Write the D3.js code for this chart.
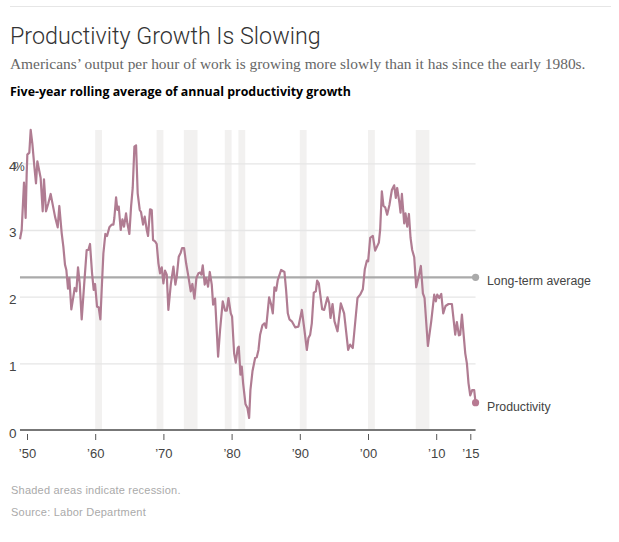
<!DOCTYPE html>
<html><head><meta charset="utf-8">
<script src="https://cdn.jsdelivr.net/npm/d3@7/dist/d3.min.js"></script>
<style>
html,body{margin:0;padding:0;background:#fff;}
svg{display:block;}
</style></head><body><svg id="c" width="619" height="542"></svg>
<script>
const titleText="Productivity Growth Is Slowing";
const subtitleText="Americans’ output per hour of work is growing more slowly than it has since the early 1980s.";
const chartLabel="Five-year rolling average of annual productivity growth";
const noteText="Shaded areas indicate recession.";
const sourceText="Source: Labor Department";
const yTicks=[0,1,2,3,4];
const xTicks=[1950,1960,1970,1980,1990,2000,2010,2015];
const longTermAverage=2.29;
const recessions=[[1960,1961],[1969,1970],[1973,1975],[1979,1980],[1981,1982],[1990,1991],[2000,2001],[2007,2009]];
const years=[1948.97,1949.22,1949.56,1949.80,1949.95,1950.05,1950.34,1950.54,1950.78,1951.08,1951.32,1951.52,1951.81,1952.00,1952.30,1952.49,1952.79,1953.13,1953.47,1953.77,1954.11,1954.50,1954.74,1955.09,1955.33,1955.57,1955.77,1956.01,1956.21,1956.50,1956.80,1956.99,1957.24,1957.48,1957.73,1958.02,1958.36,1958.75,1959.00,1959.24,1959.54,1959.78,1959.98,1960.27,1960.51,1960.76,1960.95,1961.20,1961.49,1961.74,1962.08,1962.42,1962.67,1962.81,1963.06,1963.25,1963.45,1963.74,1963.99,1964.23,1964.52,1964.72,1965.01,1965.26,1965.50,1965.75,1965.99,1966.23,1966.53,1966.72,1967.02,1967.26,1967.56,1967.75,1968.04,1968.29,1968.48,1968.78,1969.02,1969.27,1969.51,1969.76,1970.00,1970.24,1970.49,1970.73,1971.08,1971.47,1971.76,1971.96,1972.25,1972.54,1972.74,1973.03,1973.33,1973.62,1974.01,1974.25,1974.55,1974.84,1975.13,1975.38,1975.57,1975.77,1976.06,1976.26,1976.55,1976.80,1977.09,1977.29,1977.58,1978.02,1978.31,1978.70,1979.05,1979.29,1979.54,1979.88,1980.07,1980.37,1980.61,1980.90,1981.05,1981.30,1981.49,1981.69,1982.03,1982.32,1982.57,1982.76,1983.06,1983.45,1983.69,1983.94,1984.18,1984.52,1984.82,1985.06,1985.50,1985.80,1986.04,1986.28,1986.53,1986.77,1987.26,1987.75,1987.99,1988.24,1988.48,1988.83,1989.32,1989.80,1990.30,1990.68,1991.03,1991.27,1991.52,1991.76,1992.05,1992.35,1992.54,1992.79,1993.28,1993.57,1994.06,1994.31,1994.50,1994.80,1995.09,1995.53,1996.01,1996.50,1997.09,1997.38,1997.77,1998.46,1998.85,1999.24,1999.53,1999.83,2000.02,2000.32,2000.71,2001.05,2001.59,2001.78,2002.03,2002.27,2002.52,2002.81,2003.15,2003.50,2003.84,2004.08,2004.28,2004.62,2004.77,2004.97,2005.31,2005.50,2005.75,2006.00,2006.24,2006.48,2006.78,2007.07,2007.41,2007.75,2008.05,2008.29,2008.78,2009.27,2009.71,2009.95,2010.15,2010.44,2010.74,2011.03,2011.37,2011.81,2012.30,2012.79,2013.03,2013.33,2013.52,2013.77,2014.26,2014.50,2014.74,2014.99,2015.28,2015.57,2015.77];
const productivity=[2.86,3.00,3.71,3.18,3.83,4.13,4.16,4.50,4.30,3.95,3.70,4.03,3.88,3.78,3.28,3.76,3.28,3.40,3.54,3.38,3.20,3.04,3.36,2.95,2.75,2.48,2.40,2.12,2.28,1.81,2.00,2.13,2.08,2.44,2.20,1.66,2.15,2.70,2.70,2.79,2.35,2.10,2.19,1.85,1.84,1.66,2.10,2.65,2.94,2.91,3.04,3.08,3.08,3.18,3.49,3.30,3.35,3.00,3.16,3.05,3.25,3.10,2.94,3.35,3.63,4.25,4.27,3.55,3.30,3.27,3.08,3.20,3.00,2.91,3.31,3.30,2.85,2.83,2.79,2.50,2.35,2.44,2.20,2.39,2.33,1.80,2.18,2.45,2.18,2.30,2.60,2.66,2.73,2.73,2.50,2.33,2.08,2.19,1.97,2.28,2.35,2.36,2.33,2.47,2.18,2.28,2.15,2.37,2.18,1.88,1.97,1.10,1.50,1.93,1.79,1.79,1.98,1.75,1.70,1.15,1.01,1.23,1.25,0.83,0.95,0.70,0.39,0.33,0.18,0.60,0.88,1.08,1.09,1.20,1.43,1.57,1.60,1.53,1.99,1.88,1.75,2.14,2.09,2.25,2.40,2.37,2.10,1.75,1.66,1.63,1.54,1.55,1.80,1.50,1.20,1.38,1.43,1.60,2.06,2.08,2.24,2.20,1.81,1.80,1.99,1.90,1.68,1.89,1.63,1.48,1.90,1.75,1.20,1.28,1.23,1.98,2.03,2.11,2.41,2.54,2.53,2.88,2.91,2.69,2.81,3.00,3.58,3.36,3.34,3.23,3.38,3.60,3.67,3.48,3.63,3.40,3.26,3.54,3.10,3.25,3.05,3.24,2.88,2.70,2.59,2.14,2.29,2.46,2.05,1.98,1.26,1.63,2.03,1.93,2.03,1.98,2.04,1.75,1.86,1.89,1.89,1.43,1.62,1.42,1.43,1.73,1.15,1.00,0.70,0.52,0.60,0.60,0.41];

const svg=d3.select("#c");
const x=d3.scaleLinear().domain([1950,2015]).range([27,470.3]);
const y=d3.scaleLinear().domain([0,4]).range([430,163.3]);
const xStart=years[0], xEnd=years[years.length-1];
const sans="'Liberation Sans',Arial,sans-serif";

svg.append("line").attr("x1",10).attr("x2",611).attr("y1",6.5).attr("y2",6.5).attr("stroke","#e6e6e6").attr("stroke-width",1);
svg.append("text").text(titleText).attr("x",10).attr("y",44).attr("font-family","Roboto").attr("font-weight",300).attr("font-size",23.3).attr("fill","#333");
svg.append("text").text(subtitleText).attr("x",10).attr("y",69).attr("font-family","'Liberation Serif',serif").attr("font-size",15.4).attr("fill","#666");
svg.append("text").text(chartLabel).attr("x",10).attr("y",96).attr("font-family","'Open Sans'").attr("font-weight",700).attr("font-size",12.4).attr("fill","#000");

svg.append("g").selectAll("rect").data(recessions).join("rect")
 .attr("x",d=>x(d[0])).attr("width",d=>x(d[1])-x(d[0]))
 .attr("y",y(4.5)).attr("height",y(0)-y(4.5)).attr("fill","#f2f1f0");

const gy=svg.append("g").attr("transform",`translate(${x(xStart)},0)`)
 .call(d3.axisLeft(y).tickValues(yTicks.slice(1)).tickSize(-(x(xEnd)-x(xStart))).tickFormat(""));
gy.select(".domain").remove();
gy.selectAll(".tick line").attr("stroke","#e6e6e6").attr("stroke-width",1.3);

svg.append("g").selectAll("text").data(yTicks).join("text")
 .attr("x",9).attr("y",d=>y(d)+7.5).text(d=>d)
 .attr("font-family",sans).attr("font-size",13.5).attr("fill","#444");
svg.append("text").text("%").attr("x",14).attr("y",y(4)+7.5).attr("font-family",sans).attr("font-size",12).attr("fill","#444");

svg.append("line").attr("x1",x(xStart)).attr("x2",x(xEnd)).attr("y1",y(longTermAverage)).attr("y2",y(longTermAverage)).attr("stroke","#aaa").attr("stroke-width",2.2);

const gx=svg.append("g").attr("transform",`translate(0,${y(0)})`)
 .call(d3.axisBottom(x).tickValues(xTicks).tickSize(0).tickPadding(0).tickFormat(d=>"’"+String(d).slice(2)));
gx.select(".domain").remove();
gx.selectAll(".tick text").attr("y",28).attr("dy",0).attr("font-family",sans).attr("font-size",13).attr("fill","#444");
gx.selectAll(".tick").append("line").attr("y1",4).attr("y2",10).attr("stroke","#555").attr("stroke-width",1);
svg.append("line").attr("x1",x(xStart)).attr("x2",x(xEnd)).attr("y1",y(0)).attr("y2",y(0)).attr("stroke","#777").attr("stroke-width",2);

const line=d3.line().x((d,i)=>x(years[i])).y(d=>y(d)).curve(d3.curveLinear);
svg.append("path").datum(productivity).attr("d",line).attr("fill","none").attr("stroke","#b07c92").attr("stroke-width",2.2).attr("stroke-linejoin","round");

svg.append("circle").attr("cx",x(xEnd)).attr("cy",y(longTermAverage)).attr("r",3.6).attr("fill","#aaa");
svg.append("circle").attr("cx",x(xEnd)).attr("cy",y(productivity[productivity.length-1])).attr("r",3.6).attr("fill","#b87a92");

svg.append("text").text("Long-term average").attr("x",487).attr("y",285).attr("font-family",sans).attr("font-size",12.3).attr("fill","#444");
svg.append("text").text("Productivity").attr("x",487).attr("y",411).attr("font-family",sans).attr("font-size",12.3).attr("fill","#444");

svg.append("text").text(noteText).attr("x",11).attr("y",494).attr("font-family",sans).attr("font-size",11).attr("letter-spacing",0.22).attr("fill","#aaa");
svg.append("text").text(sourceText).attr("x",11).attr("y",516).attr("font-family",sans).attr("font-size",11).attr("letter-spacing",0.22).attr("fill","#aaa");
</script></body></html>
